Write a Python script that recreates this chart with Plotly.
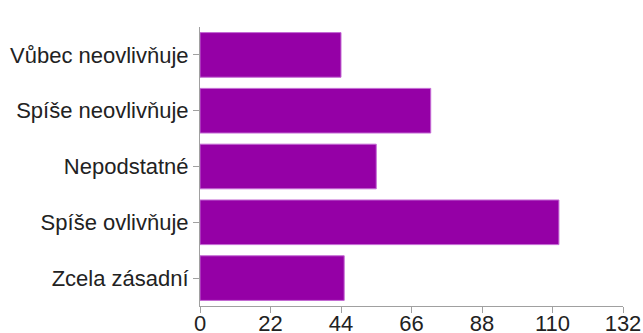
import plotly.graph_objects as go

categories = ["Vůbec neovlivňuje", "Spíše neovlivňuje", "Nepodstatné", "Spíše ovlivňuje", "Zcela zásadní"]
counts = [44, 72, 55, 112, 45]
x_ticks = [0, 22, 44, 66, 88, 110, 132]

fig = go.Figure(
    go.Bar(
        x=counts,
        y=categories,
        orientation="h",
        marker=dict(color="#9500A6", line=dict(color="#C46AD4", width=1)),
        hoverinfo="x+y",
    )
)

axis_color = "#A0A0A0"
fig.update_layout(
    width=643,
    height=333,
    margin=dict(l=200, r=20, t=27, b=27),
    paper_bgcolor="white",
    plot_bgcolor="white",
    bargap=0.2,
    showlegend=False,
    font=dict(family="Liberation Sans, Arial, sans-serif", size=22, color="#222222"),
)
fig.update_xaxes(
    range=[0, 132],
    tickvals=x_ticks,
    ticks="outside",
    ticklen=6,
    tickcolor=axis_color,
    showline=True,
    linecolor=axis_color,
    linewidth=1,
    showgrid=False,
    zeroline=False,
    automargin=False,
    ticklabelstandoff=-8,
    tickfont=dict(size=22, color="#222222"),
)
fig.update_yaxes(
    categoryorder="array",
    categoryarray=categories[::-1],
    ticks="outside",
    ticklen=6,
    tickcolor=axis_color,
    showline=True,
    linecolor=axis_color,
    linewidth=1,
    showgrid=False,
    automargin=False,
    tickfont=dict(size=22, color="#222222"),
)

fig.write_html("out.html")
